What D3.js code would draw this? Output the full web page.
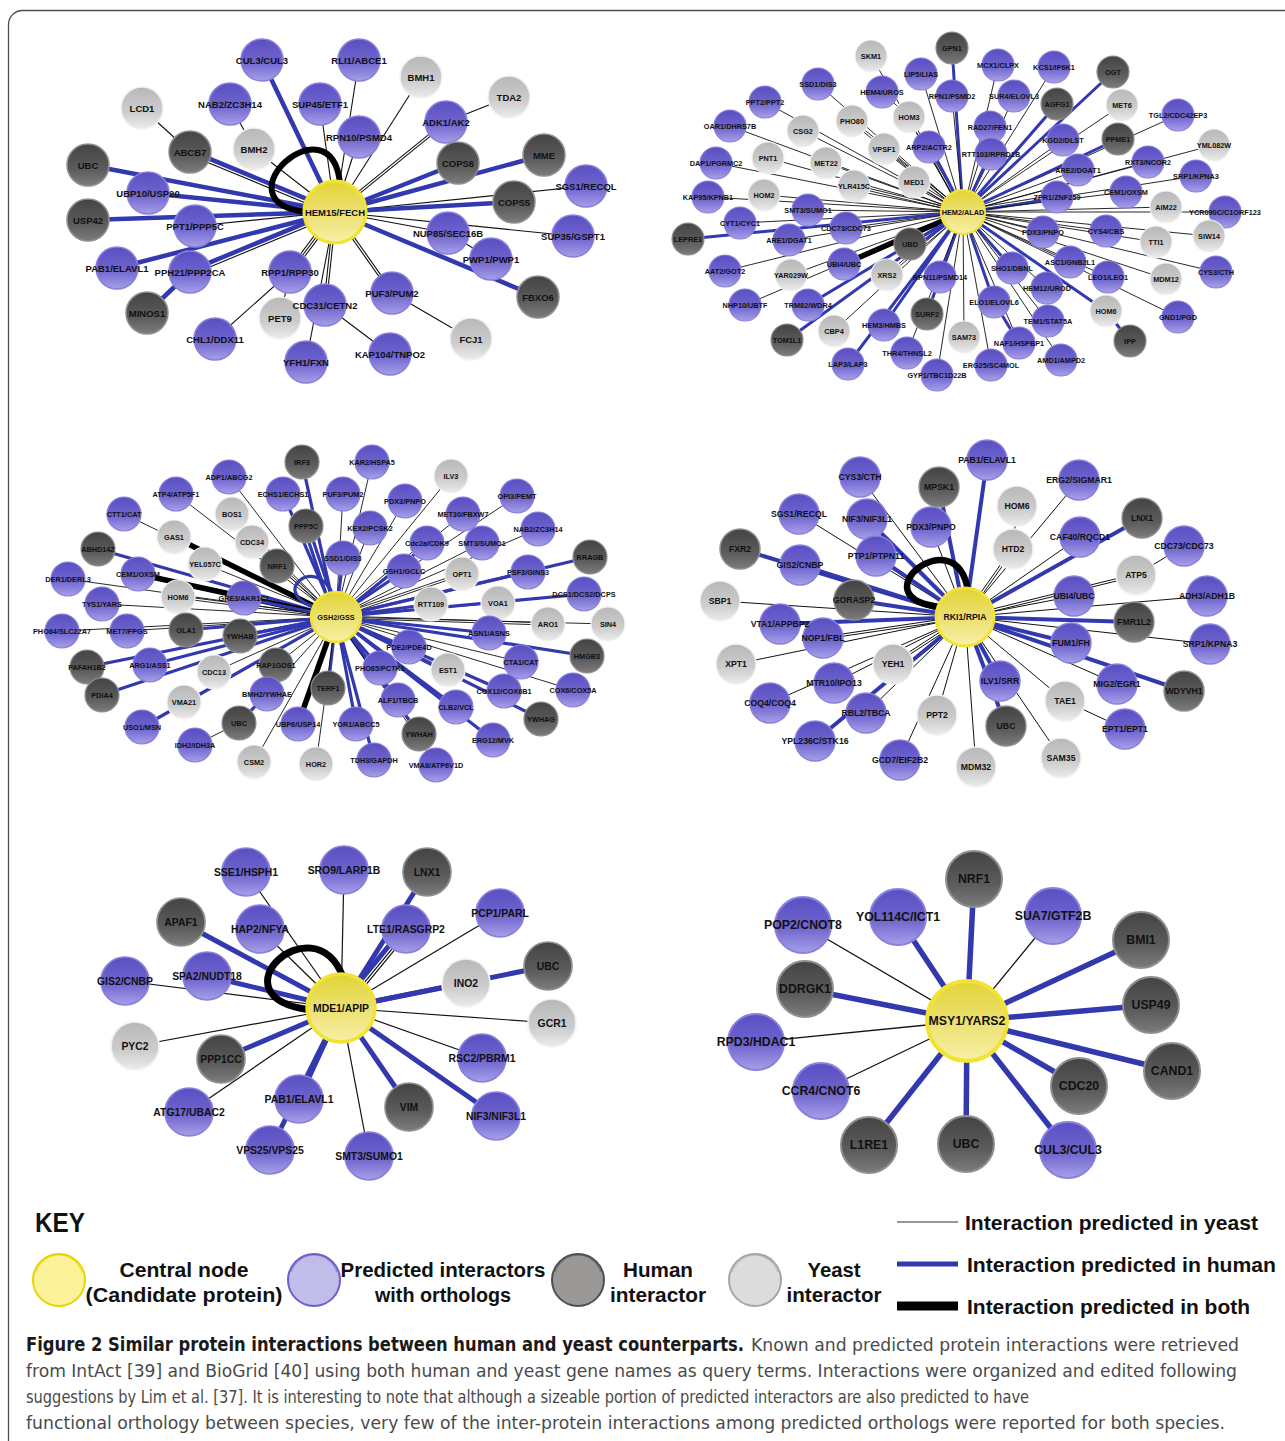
<!DOCTYPE html>
<html><head><meta charset="utf-8">
<script src="https://cdn.jsdelivr.net/npm/d3@7"></script>
<style>
html,body{margin:0;padding:0;background:#fff;}
svg{display:block;}
</style></head><body>
<svg id="fig" width="1285" height="1441"></svg>
<script>
// Each interactor: [label, kind, dx, dy, link to hub]
// kind: o = predicted interactor with orthologs, h = human interactor, y = yeast interactor
// link: y = predicted in yeast, h = predicted in human, b = predicted in both,
//       several letters = parallel lines, "-" = no direct line to the hub
const hubNames = ["HEM15/FECH", "HEM2/ALAD", "GSH2/GSS", "RKI1/RPIA", "MDE1/APIP", "MSY1/YARS2"];

const hem15Nodes = [
  ["CUL3/CUL3","o",-73,-152,"h"],["RLI1/ABCE1","o",24,-152,"y"],["BMH1","y",86,-135,"y"],
  ["LCD1","y",-193,-104,"-"],["NAB2/ZC3H14","o",-105,-108,"-"],["SUP45/ETF1","o",-15,-108,"y"],
  ["TDA2","y",174,-115,"-"],["ADK1/AK2","o",111,-90,"yy"],["RPN10/PSMD4","o",24,-75,"y"],
  ["BMH2","y",-81,-63,"y"],["ABCB7","h",-145,-60,"yh"],["UBC","h",-247,-47,"h"],
  ["COPS6","h",123,-49,"h"],["MME","h",209,-57,"h"],["UBP10/USP20","o",-187,-19,"h"],
  ["SGS1/RECQL","o",251,-26,"y"],["COPS5","h",179,-10,"h"],["USP42","h",-247,8,"h"],
  ["PPT1/PPP5C","o",-140,14,"y"],["SUP35/GSPT1","o",238,24,"y"],["NUP85/SEC16B","o",113,21,"y"],
  ["PWP1/PWP1","o",156,47,"-"],["PAB1/ELAVL1","o",-218,56,"h"],["PPH21/PPP2CA","o",-145,60,"yh"],
  ["FBXO6","h",203,85,"h"],["RPP1/RPP30","o",-45,60,"yyy"],["PUF3/PUM2","o",57,81,"yy"],
  ["MINOS1","h",-188,101,"-"],["PET9","y",-55,106,"-"],["CDC31/CETN2","o",-10,93,"yy"],
  ["FCJ1","y",136,127,"-"],["CHL1/DDX11","o",-120,127,"-"],["YFH1/FXN","o",-29,150,"y"],
  ["KAP104/TNPO2","o",55,142,"-"]
];
const hem15Links = [
  ["LCD1","ABCB7","y"],["NAB2/ZC3H14","BMH2","y"],["TDA2","ADK1/AK2","y"],
  ["PWP1/PWP1","NUP85/SEC16B","y"],["MINOS1","PPH21/PPP2CA","h"],["PET9","RPP1/RPP30","y"],
  ["CHL1/DDX11","RPP1/RPP30","y"],["FCJ1","PUF3/PUM2","y"],["KAP104/TNPO2","CDC31/CETN2","y"]
];
const hem15Loops = ["b"];

const hem2Nodes = [
  ["GPN1","h",-11,-164,"h"],["SKM1","y",-92,-156,"y"],["MCX1/CLPX","o",35,-147,"y"],
  ["KCS1/IP6K1","o",91,-145,"y"],["OGT","h",150,-140,"h"],["LIP5/LIAS","o",-42,-138,"y"],
  ["SSD1/DIS3","o",-145,-128,"y"],["HEM4/UROS","o",-81,-120,"-"],["RPN1/PSMD2","o",-11,-116,"y"],
  ["SUR4/ELOVL3","o",51,-116,"y"],["AGFG1","h",94,-108,"h"],["MET6","y",159,-107,"y"],
  ["PPT2/PPT2","o",-198,-110,"y"],["HOM3","y",-54,-95,"yy"],["PHO80","y",-111,-91,"yy"],
  ["TGL2/CDC42EP3","o",215,-97,"y"],["RAD27/FEN1","o",27,-85,"y"],["OAR1/DHRS7B","o",-233,-86,"y"],
  ["CSG2","y",-160,-81,"y"],["KGD2/DLST","o",100,-72,"y"],["PPME1","h",155,-73,"h"],
  ["YML082W","y",251,-67,"y"],["ARP2/ACTR2","o",-34,-65,"yh"],["PNT1","y",-195,-54,"y"],
  ["VPSF1","y",-79,-63,"yy"],["RTT103/RPRD1B","o",28,-58,"h"],["RXT3/NCOR2","o",185,-50,"y"],
  ["MET22","y",-137,-49,"y"],["DAP1/PGRMC2","o",-247,-49,"y"],["ARE2/DGAT1","o",115,-42,"y"],
  ["SRP1/KPNA3","o",233,-36,"y"],["MED1","y",-49,-30,"yy"],["YLR415C","y",-109,-26,"yy"],
  ["ZPR1/ZNF259","o",94,-15,"yh"],["CEM1/OXSM","o",163,-20,"y"],["HOM2","y",-199,-17,"y"],
  ["KAP95/KPNB1","o",-255,-15,"y"],["AIM22","y",203,-5,"y"],["YCR090C/C1ORF123","o",262,0,"y"],
  ["SMT3/SUMO1","o",-155,-2,"y"],["CYT1/CYC1","o",-223,11,"y"],["CDC73/CDC73","o",-117,16,"y"],
  ["LEPRE1","h",-275,27,"h"],["PDX3/PNPO","o",80,20,"y"],["CYS4/CBS","o",143,19,"y"],
  ["SIW14","y",246,24,"y"],["TTI1","y",193,30,"y"],["ARE1/DGAT1","o",-174,28,"y"],
  ["UBD","h",-53,32,"h"],["ASC1/GNB2L1","o",107,50,"y"],["AAT2/GOT2","o",-238,59,"y"],
  ["YAR029W","y",-172,63,"y"],["UBI4/UBC","o",-119,52,"b"],["XRS2","y",-76,63,"yy"],
  ["RPN11/PSMD14","o",-23,65,"h"],["SHO1/DBNL","o",49,56,"h"],["LEO1/LEO1","o",145,65,"y"],
  ["MDM12","y",203,67,"y"],["CYS3/CTH","o",253,60,"y"],["HEM12/UROD","o",84,76,"y"],
  ["HOM6","y",143,99,"h"],["IPP","h",167,129,"-"],["NHP10/UBTF","o",-218,93,"y"],
  ["TRM82/WDR4","o",-155,93,"h"],["SURF2","h",-36,102,"h"],["ELO1/ELOVL6","o",31,90,"h"],
  ["GND1/PGD","o",215,105,"y"],["TEM1/STAT5A","o",85,109,"y"],["CBP4","y",-129,119,"y"],
  ["HEM3/HMBS","o",-79,113,"h"],["SAM73","y",1,125,"y"],["TOM1L1","h",-176,128,"h"],
  ["NAF1/HSPBP1","o",56,131,"y"],["THR4/THNSL2","o",-56,141,"y"],["AMD1/AMPD2","o",98,148,"y"],
  ["ERG25/SC4MOL","o",28,153,"y"],["LAP3/LAP3","o",-115,152,"h"],["GYP1/TBC1D22B","o",-26,163,"y"]
];
const hem2Links = [["HEM4/UROS","HOM3","y"],["IPP","HOM6","h"],["NAF1/HSPBP1","ELO1/ELOVL6","h"]];
const hem2Loops = [];

const gsh2Nodes = [
  ["IRF3","h",-34,-155,"h"],["KAR2/HSPA5","o",36,-155,"y"],["ADP1/ABCG2","o",-107,-140,"y"],
  ["ILV3","y",115,-141,"y"],["ECHS1/ECHS1","o",-53,-123,"h"],["PUF3/PUM2","o",7,-123,"y"],
  ["ATP4/ATP5F1","o",-160,-123,"y"],["OPI3/PEMT","o",181,-121,"y"],["PDX3/PNPO","o",69,-116,"y"],
  ["CTT1/CAT","o",-212,-103,"y"],["BOS1","y",-104,-103,"y"],["MET30/FBXW7","o",127,-103,"y"],
  ["KEX2/PCSK2","o",34,-89,"y"],["PPP5C","h",-30,-91,"hh"],["GAS1","y",-162,-80,"b"],
  ["CDC34","y",-84,-75,"yy"],["Cdc2a/CDK9","o",91,-74,"yh"],["NAB2/ZC3H14","o",202,-88,"y"],
  ["SMT3/SUMO1","o",146,-74,"y"],["ABHD14Z","h",-238,-68,"h"],["YEL057C","y",-131,-53,"y"],
  ["NRF1","h",-59,-51,"y"],["SSD1/DIS3","o",7,-59,"h"],["RRAGB","h",254,-60,"h"],
  ["GSH1/GCLC","o",68,-46,"h"],["OPT1","y",126,-43,"yy"],["CEM1/OXSM","o",-198,-43,"b"],
  ["PSF3/GINS3","o",192,-45,"h"],["DER1/DERL3","o",-268,-38,"y"],["HOM6","y",-158,-20,"yy"],
  ["GRE3/AKR1C1","o",-92,-19,"h"],["RTT109","y",95,-13,"h"],["VOA1","y",162,-14,"y"],
  ["DCS1/DCS2/DCPS","o",248,-23,"h"],["TYS1/YARS","o",-234,-13,"y"],["ARO1","y",212,7,"yy"],
  ["SIN4","y",272,7,"y"],["PHO84/SLC22A7","o",-274,14,"y"],["MET7/FPGS","o",-209,14,"y"],
  ["OLA1","h",-150,13,"h"],["YWHAB","h",-96,19,"h"],["ASN1/ASNS","o",153,16,"h"],
  ["PDE2/PDE4D","o",73,30,"y"],["HMGB3","h",251,39,"h"],["RAP1GDS1","h",-60,48,"y"],
  ["PAFAH1B2","h",-249,50,"h"],["ARG1/ASS1","o",-186,48,"h"],["CTA1/CAT","o",185,45,"y"],
  ["CDC13","y",-122,55,"y"],["EST1","y",112,53,"y"],["PHO85/PCTK1","o",44,51,"h"],
  ["TERF1","h",-8,71,"h"],["PDIA4","h",-234,78,"h"],["BMH2/YWHAE","o",-69,77,"y"],
  ["VMA21","y",-152,85,"y"],["COX12/COX6B1","o",168,74,"h"],["ALF1/TBCB","o",62,83,"h"],
  ["COX6/COX5A","o",237,73,"y"],["CLB2/VCL","o",120,90,"h"],["UBP6/USP14","o",-38,107,"b"],
  ["YOR1/ABCC5","o",20,107,"h"],["UBC","h",-97,106,"-"],["USO1/MSN","o",-194,110,"h"],
  ["YWHAG","h",205,102,"h"],["YWHAH","h",83,117,"h"],["ERG12/MVK","o",157,123,"h"],
  ["IDH2/IDH3A","o",-141,128,"-"],["CSM2","y",-82,145,"y"],["HOR2","y",-20,147,"y"],
  ["TDH3/GAPDH","o",38,143,"h"],["VMA8/ATP6V1D","o",100,148,"y"]
];
const gsh2Links = [["IDH2/IDH3A","UBC","y"],["UBC","BMH2/YWHAE","h"]];
const gsh2Loops = ["h"];

const rki1Nodes = [
  ["PAB1/ELAVL1","o",22,-157,"h"],["CYS3/CTH","o",-105,-140,"y"],["MPSK1","h",-26,-130,"h"],
  ["ERG2/SIGMAR1","o",114,-137,"y"],["HOM6","y",52,-111,"-"],["SGS1/RECQL","o",-166,-103,"y"],
  ["NIF3/NIF3L1","o",-98,-98,"h"],["PDX3/PNPO","o",-34,-90,"y"],["LNX1","h",177,-99,"h"],
  ["FXR2","h",-225,-68,"h"],["CAF40/RQCD1","o",115,-80,"y"],["HTD2","y",48,-68,"yy"],
  ["CDC73/CDC73","o",219,-71,"-"],["PTP1/PTPN11","o",-89,-61,"h"],["GIS2/CNBP","o",-165,-52,"h"],
  ["ATP5","y",171,-42,"yy"],["SBP1","y",-245,-16,"y"],["GORASP2","h",-111,-17,"h"],
  ["UBI4/UBC","o",109,-21,"y"],["ADH3/ADH1B","o",242,-21,"y"],["FMR1L2","h",169,5,"h"],
  ["VTA1/APPBP2","o",-185,7,"h"],["NOP1/FBL","o",-142,21,"yy"],["SRP1/KPNA3","o",245,27,"y"],
  ["FUM1/FH","o",106,26,"h"],["XPT1","y",-229,47,"y"],["YEH1","y",-72,47,"yy"],
  ["ILV1/SRR","o",35,64,"h"],["MTR10/IPO13","o",-131,66,"y"],["MIG2/EGR1","o",152,67,"y"],
  ["WDYVH1","h",219,74,"h"],["COQ4/COQ4","o",-195,86,"y"],["TAE1","y",100,84,"y"],
  ["PPT2","y",-28,98,"y"],["RBL2/TBCA","o",-99,96,"y"],["UBC","h",41,109,"h"],
  ["EPT1/EPT1","o",160,112,"-"],["YPL236C/STK16","o",-150,124,"h"],["SAM35","y",96,141,"y"],
  ["GCD7/EIF2B2","o",-65,143,"y"],["MDM32","y",11,150,"y"]
];
const rki1Links = [["HOM6","HTD2","y"],["CDC73/CDC73","ATP5","y"],["EPT1/EPT1","TAE1","y"]];
const rki1Loops = ["b"];

const mde1Nodes = [
  ["SSE1/HSPH1","o",-95,-136,"y"],["SRO9/LARP1B","o",3,-138,"y"],["LNX1","h",86,-136,"h"],
  ["APAF1","h",-160,-86,"h"],["HAP2/NFYA","o",-81,-79,"y"],["LTE1/RASGRP2","o",65,-79,"hyy"],
  ["PCP1/PARL","o",159,-95,"y"],["SPA2/NUDT18","o",-134,-32,"h"],["GIS2/CNBP","o",-216,-27,"y"],
  ["INO2","y",125,-25,"h"],["UBC","h",207,-42,"h"],["GCR1","y",211,15,"y"],
  ["PYC2","y",-206,38,"y"],["PPP1CC","h",-120,51,"h"],["RSC2/PBRM1","o",141,50,"y"],
  ["PAB1/ELAVL1","o",-42,91,"h"],["VIM","h",68,99,"h"],["ATG17/UBAC2","o",-152,104,"y"],
  ["NIF3/NIF3L1","o",155,108,"h"],["VPS25/VPS25","o",-71,142,"h"],["SMT3/SUMO1","o",28,148,"y"]
];
const mde1Links = [];
const mde1Loops = ["b"];

const msy1Nodes = [
  ["NRF1","h",7,-142,"h"],["YOL114C/ICT1","o",-69,-104,"h"],["SUA7/GTF2B","o",86,-105,"y"],
  ["POP2/CNOT8","o",-164,-96,"y"],["BMI1","h",174,-81,"h"],["DDRGK1","h",-162,-32,"h"],
  ["USP49","h",184,-16,"h"],["RPD3/HDAC1","o",-211,21,"y"],["CAND1","h",205,50,"h"],
  ["CDC20","h",112,65,"h"],["CCR4/CNOT6","o",-146,70,"y"],["L1RE1","h",-98,124,"h"],
  ["UBC","h",-1,123,"h"],["CUL3/CUL3","o",101,129,"h"]
];
const msy1Links = [];
const msy1Loops = [];

// Key entries
const keyNodeKinds = ["hub", "o", "h", "y"];
const keyNodeText = [["Central node", "(Candidate protein)"], ["Predicted interactors", "with orthologs"], ["Human", "interactor"], ["Yeast", "interactor"]];
const keyLineKinds = ["y", "h", "b"];
const keyLineText = ["Interaction predicted in yeast", "Interaction predicted in human", "Interaction predicted in both"];

const captionBold = "Figure 2 Similar protein interactions between human and yeast counterparts.";
const captionLines = [
  "Known and predicted protein interactions were retrieved",
  "from IntAct [39] and BioGrid [40] using both human and yeast gene names as query terms. Interactions were organized and edited following",
  "suggestions by Lim et al. [37]. It is interesting to note that although a sizeable portion of predicted interactors are also predicted to have",
  "functional orthology between species, very few of the inter-protein interactions among predicted orthologs were reported for both species."
];

// ---------- drawing ----------
const svg = d3.select("#fig");
const defs = svg.append("defs");

function vGrad(id, stops) {
  const g = defs.append("linearGradient").attr("id", id).attr("x1", 0).attr("y1", 0).attr("x2", 0).attr("y2", 1);
  stops.forEach(([o, c]) => g.append("stop").attr("offset", o).attr("stop-color", c));
}
vGrad("g-o", [[0, "#5a4fc2"], [0.55, "#6f65ce"], [1, "#a7a0e8"]]);
vGrad("g-h", [[0, "#444444"], [0.6, "#5c5c5c"], [1, "#7c7c7c"]]);
vGrad("g-y", [[0, "#b8b8b8"], [0.6, "#cdcdcd"], [1, "#ececec"]]);
vGrad("g-hub", [[0, "#e2d435"], [0.5, "#ece070"], [1, "#f7f0a6"]]);

const fill = { o: "url(#g-o)", h: "url(#g-h)", y: "url(#g-y)" };
const rim = { o: "#8880dc", h: "#8f8f8f", y: "#f2f2f2" };
const BLUE = "#3238ae";

const layout = [
  { ox: 335, oy: 212, hubR: 31, nodeR: 21, font: 9.5, thin: 1.1, blue: 4.5, both: 6,
    loop: { a0: 180, a1: 280, c1: [185, 120], c2: [268, 115] } },
  { ox: 963, oy: 212, hubR: 22, nodeR: 16, font: 7.3, thin: 0.9, blue: 3, both: 5.5 },
  { ox: 336, oy: 617, hubR: 25, nodeR: 17, font: 7.3, thin: 0.9, blue: 3.2, both: 5.5,
    loop: { a0: 205, a1: 262, c1: [200, 72], c2: [252, 66] } },
  { ox: 965, oy: 617, hubR: 29, nodeR: 20, font: 8.7, thin: 1, blue: 4, both: 6.5,
    loop: { a0: 202, a1: 276, c1: [190, 110], c2: [265, 100] } },
  { ox: 341, oy: 1008, hubR: 34, nodeR: 24, font: 10.4, thin: 1.2, blue: 5, both: 7,
    loop: { a0: 177, a1: 273, c1: [185, 130], c2: [255, 110] } },
  { ox: 967, oy: 1021, hubR: 40, nodeR: 28, font: 12.3, thin: 1.3, blue: 5.5, both: 7 }
];

const panels = [
  { nodes: hem15Nodes, links: hem15Links, loops: hem15Loops },
  { nodes: hem2Nodes, links: hem2Links, loops: hem2Loops },
  { nodes: gsh2Nodes, links: gsh2Links, loops: gsh2Loops },
  { nodes: rki1Nodes, links: rki1Links, loops: rki1Loops },
  { nodes: mde1Nodes, links: mde1Links, loops: mde1Loops },
  { nodes: msy1Nodes, links: msy1Links, loops: msy1Loops }
];

// figure frame
svg.append("rect").attr("x", 8.5).attr("y", 10.5).attr("width", 1310).attr("height", 1460)
  .attr("rx", 14).attr("fill", "none").attr("stroke", "#4d4d4d").attr("stroke-width", 1.3);

function lineStyle(c, L) {
  if (c === "h") return { stroke: BLUE, w: L.blue };
  if (c === "b") return { stroke: "#000", w: L.both };
  return { stroke: "#111", w: L.thin };
}

function parallel(g, x1, y1, x2, y2, types, L) {
  const chars = types.split("");
  const st = chars.map(c => lineStyle(c, L));
  const gap = 1.3;
  const total = d3.sum(st, s => s.w) + gap * (st.length - 1);
  const len = Math.hypot(x2 - x1, y2 - y1) || 1;
  const nx = -(y2 - y1) / len, ny = (x2 - x1) / len;
  let off = -total / 2;
  st.forEach(s => {
    const o = off + s.w / 2;
    off += s.w + gap;
    g.append("line")
      .attr("x1", x1 + nx * o).attr("y1", y1 + ny * o)
      .attr("x2", x2 + nx * o).attr("y2", y2 + ny * o)
      .attr("stroke", s.stroke).attr("stroke-width", s.w).attr("stroke-linecap", "butt");
  });
}

const rad = a => a * Math.PI / 180;

panels.forEach((p, i) => {
  const L = layout[i];
  const x = d3.scaleLinear().domain([-300, 300]).range([L.ox - 300, L.ox + 300]);
  const y = d3.scaleLinear().domain([-200, 200]).range([L.oy - 200, L.oy + 200]);
  const g = svg.append("g").attr("class", "panel");
  const edges = g.append("g"), loops = g.append("g"), nodesG = g.append("g"), labels = g.append("g");
  const byName = new Map(p.nodes.map(n => [n[0], n]));

  // lines from the hub
  p.nodes.forEach(n => {
    if (n[4] !== "-") parallel(edges, x(0), y(0), x(n[2]), y(n[3]), n[4], L);
  });
  // lines between interactors
  p.links.forEach(([a, b, t]) => {
    const A = byName.get(a), B = byName.get(b);
    parallel(edges, x(A[2]), y(A[3]), x(B[2]), y(B[3]), t, L);
  });
  // self interaction of the hub protein
  p.loops.forEach(t => {
    const lp = L.loop, s = lineStyle(t, L);
    const pt = (a, r) => [x(r * Math.cos(rad(a))), y(r * Math.sin(rad(a)))];
    const P0 = pt(lp.a0, L.hubR - 2), P1 = pt(lp.c1[0], lp.c1[1]), P2 = pt(lp.c2[0], lp.c2[1]), P3 = pt(lp.a1, L.hubR - 2);
    const path = d3.path();
    path.moveTo(...P0);
    path.bezierCurveTo(...P1, ...P2, ...P3);
    loops.append("path").attr("d", path.toString()).attr("fill", "none")
      .attr("stroke", s.stroke).attr("stroke-width", s.w).attr("stroke-linecap", "round");
  });

  // interactor nodes
  p.nodes.forEach(n => {
    nodesG.append("circle").attr("cx", x(n[2])).attr("cy", y(n[3])).attr("r", L.nodeR)
      .attr("fill", fill[n[1]]).attr("stroke", rim[n[1]]).attr("stroke-width", Math.max(1, L.nodeR / 14));
    labels.append("text").attr("x", x(n[2])).attr("y", y(n[3]))
      .attr("text-anchor", "middle").attr("dominant-baseline", "central")
      .attr("font-family", "'Liberation Sans', Arial, sans-serif").attr("font-weight", "bold")
      .attr("font-size", L.font).attr("fill", "#111").text(n[0]);
  });

  // hub
  nodesG.append("circle").attr("cx", x(0)).attr("cy", y(0)).attr("r", L.hubR)
    .attr("fill", "url(#g-hub)").attr("stroke", "#f1e233").attr("stroke-width", Math.max(2, L.hubR / 10));
  labels.append("text").attr("x", x(0)).attr("y", y(0))
    .attr("text-anchor", "middle").attr("dominant-baseline", "central")
    .attr("font-family", "'Liberation Sans', Arial, sans-serif").attr("font-weight", "bold")
    .attr("font-size", L.font).attr("fill", "#111").text(hubNames[i]);
});

// ---------- key ----------
const key = svg.append("g").attr("class", "key");
const keyFont = "'Liberation Sans', Arial, sans-serif";
key.append("text").attr("x", 35).attr("y", 1232).attr("font-family", keyFont).attr("font-weight", "bold")
  .attr("font-size", 28).attr("textLength", 50).attr("lengthAdjust", "spacingAndGlyphs").attr("fill", "#111").text("KEY");

const keySpot = { hub: 59, o: 314, h: 578, y: 755 };
const keyTextX = { hub: 184, o: 443, h: 658, y: 834 };
const keyTextW = { hub: [129, 197], o: [205, 136], h: [70, 96], y: [53, 95] };
const keyFill = { hub: ["#fbf29a", "#e5d500"], o: ["#c2bcea", "#6a60c9"], h: ["#9b9997", "#505050"], y: ["#dcdcdc", "#a6a6a6"] };
keyNodeKinds.forEach((k, i) => {
  const cx = keySpot[k];
  key.append("ellipse").attr("cx", cx).attr("cy", 1280).attr("rx", 26).attr("ry", 26)
    .attr("fill", keyFill[k][0]).attr("stroke", keyFill[k][1]).attr("stroke-width", 2);
  key.append("path")
    .attr("d", `M${cx - 23},${1272} A24,24 0 0 1 ${cx + 23},${1272}`)
    .attr("fill", "none").attr("stroke", keyFill[k][1]).attr("stroke-opacity", 0.45).attr("stroke-width", 2);
  keyNodeText[i].forEach((t, j) => {
    key.append("text").attr("x", keyTextX[k]).attr("y", 1277 + j * 25).attr("text-anchor", "middle")
      .attr("font-family", keyFont).attr("font-weight", "bold").attr("font-size", 21)
      .attr("textLength", keyTextW[k][j]).attr("lengthAdjust", "spacingAndGlyphs")
      .attr("fill", "#111").text(t);
  });
});
const keyLineY = d3.scalePoint().domain(keyLineKinds).range([1222, 1306]);
const keyLineW = { y: 1.2, h: 5, b: 9 };
const keyLineC = { y: "#333", h: BLUE, b: "#000" };
const keyLineTW = [293, 309, 283];
keyLineKinds.forEach((k, i) => {
  const yy = keyLineY(k);
  key.append("line").attr("x1", 897).attr("x2", 958).attr("y1", yy).attr("y2", yy)
    .attr("stroke", keyLineC[k]).attr("stroke-width", keyLineW[k]);
  key.append("text").attr("x", k === "y" ? 965 : 967).attr("y", yy + 8)
    .attr("font-family", keyFont).attr("font-weight", "bold").attr("font-size", 21)
    .attr("textLength", keyLineTW[i]).attr("lengthAdjust", "spacingAndGlyphs")
    .attr("fill", "#111").text(keyLineText[i]);
});

// ---------- caption ----------
const cap = svg.append("g").attr("class", "caption");
const capFont = "'DejaVu Sans Condensed', 'Liberation Sans', sans-serif";
cap.append("text").attr("x", 26).attr("y", 1351).attr("font-family", capFont).attr("font-weight", "bold")
  .attr("font-size", 19).attr("textLength", 718).attr("lengthAdjust", "spacingAndGlyphs")
  .attr("fill", "#1a1a1a").text(captionBold);
const capX = [751, 26, 26, 26];
const capW = [488, 1211, 1003, 1199];
captionLines.forEach((t, i) => {
  cap.append("text").attr("x", capX[i]).attr("y", 1351 + i * 26).attr("font-family", capFont)
    .attr("font-size", 18.5).attr("textLength", capW[i]).attr("lengthAdjust", "spacingAndGlyphs")
    .attr("fill", "#4a4a4a").text(t);
});
</script>
</body></html>
